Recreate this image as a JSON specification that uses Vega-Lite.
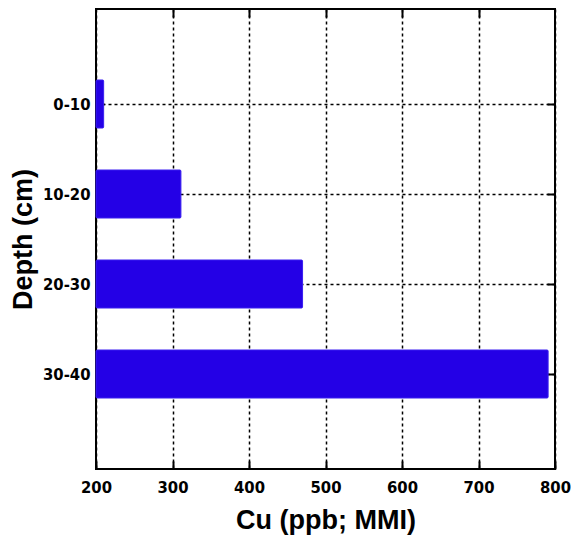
{
  "$schema": "https://vega.github.io/schema/vega-lite/v6.json",
  "width": 459,
  "height": 460,
  "autosize": {"type": "none"},
  "padding": {"left": 96, "top": 9, "right": 17, "bottom": 80},
  "background": "white",
  "config": {
    "view": {"stroke": "black", "strokeWidth": 2},
    "font": "Liberation Sans"
  },
  "data": {
    "values": [
      {"depth": "0-10", "pos": 1, "cu": 210},
      {"depth": "10-20", "pos": 2, "cu": 311},
      {"depth": "20-30", "pos": 3, "cu": 470},
      {"depth": "30-40", "pos": 4, "cu": 791}
    ]
  },
  "layer": [
    {
      "mark": {"type": "bar", "size": 48, "color": "#2400E6", "stroke": "#3a1ff0", "strokeWidth": 1, "cornerRadius": 1},
      "encoding": {
        "y": {
          "field": "pos", "type": "quantitative",
          "scale": {"domain": [5, 0], "nice": false, "zero": false},
          "axis": {
            "values": [1, 2, 3, 4],
            "labelExpr": "['','0-10','10-20','20-30','30-40'][datum.value]",
            "title": "Depth (cm)",
            "titleFont": "Liberation Sans", "titleFontSize": 27, "titleFontWeight": "bold", "titleColor": "black",
            "titlePadding": 5,
            "labelFont": "DejaVu Sans Condensed", "labelFontSize": 16.5, "labelFontWeight": "bold", "labelColor": "black",
            "labelPadding": 14,
            "domain": false,
            "tickSize": -8, "tickColor": "black", "tickWidth": 2,
            "grid": true, "gridColor": "black", "gridDash": [3, 3], "gridWidth": 1.5, "gridOpacity": 1
          }
        },
        "x": {
          "field": "cu", "type": "quantitative",
          "scale": {"domain": [200, 800], "nice": false, "zero": false},
          "axis": {
            "values": [200, 300, 400, 500, 600, 700, 800],
            "labelFlush": false,
            "title": "Cu (ppb; MMI)",
            "titleFont": "Liberation Sans", "titleFontSize": 27, "titleFontWeight": "bold", "titleColor": "black",
            "titlePadding": 12,
            "labelFont": "DejaVu Sans Condensed", "labelFontSize": 16.5, "labelFontWeight": "bold", "labelColor": "black",
            "labelPadding": 18,
            "domain": false,
            "tickSize": -8, "tickColor": "black", "tickWidth": 2,
            "grid": true, "gridColor": "black", "gridDash": [3, 3], "gridWidth": 1.5, "gridOpacity": 1
          }
        },
        "x2": {"datum": 200}
      }
    },
    {
      "mark": {"type": "bar", "size": 48, "opacity": 0},
      "encoding": {
        "y": {
          "field": "pos", "type": "quantitative",
          "scale": {"domain": [5, 0], "nice": false, "zero": false},
          "axis": {"orient": "right", "values": [1, 2, 3, 4], "labels": false, "title": null, "domain": false, "grid": false, "tickSize": -8, "tickColor": "black", "tickWidth": 2}
        },
        "x": {
          "field": "cu", "type": "quantitative",
          "scale": {"domain": [200, 800], "nice": false, "zero": false},
          "axis": {"orient": "top", "values": [300, 400, 500, 600, 700], "labels": false, "title": null, "domain": false, "grid": false, "tickSize": -8, "tickColor": "black", "tickWidth": 2}
        },
        "x2": {"datum": 200}
      }
    }
  ],
  "resolve": {"axis": {"x": "independent", "y": "independent"}}
}
